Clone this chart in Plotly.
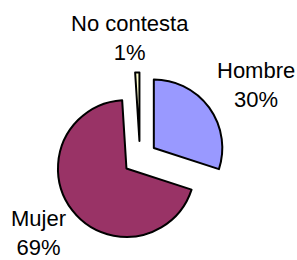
import plotly.graph_objects as go

labels = ["Hombre", "Mujer", "No contesta"]
values = [30, 69, 1]
percent_text = ["30%", "69%", "1%"]
colors = ["#9999FF", "#993366", "#FFFFCC"]
pulls = [0.25, 0.25, 0.25]

fig = go.Figure(go.Pie(
    labels=labels, values=values, sort=False, direction="clockwise", rotation=0,
    pull=pulls, textinfo="none", hoverinfo="label+percent",
    marker=dict(colors=colors, line=dict(color="#000000", width=2)),
    domain=dict(x=[0.183, 0.7596], y=[0.0631, 0.7215]),
    showlegend=False,
))

label_pos = {"Hombre": (256, 85.5), "Mujer": (38, 233), "No contesta": (130, 38)}
for lab, pct in zip(labels, percent_text):
    px, py = label_pos[lab]
    fig.add_annotation(
        x=px / 297, y=1 - py / 260, xref="paper", yref="paper",
        text=f"{lab}<br>{pct}", showarrow=False, align="center",
        xanchor="center", yanchor="middle",
        font=dict(family="Liberation Sans, Arial", size=22, color="#000000"),
    )

fig.update_layout(width=297, height=260, margin=dict(l=0, r=0, t=0, b=0),
                  paper_bgcolor="white", plot_bgcolor="white")
fig.write_html("out.html", config={"displayModeBar": False},
               post_script="document.body.style.margin='0px';")
